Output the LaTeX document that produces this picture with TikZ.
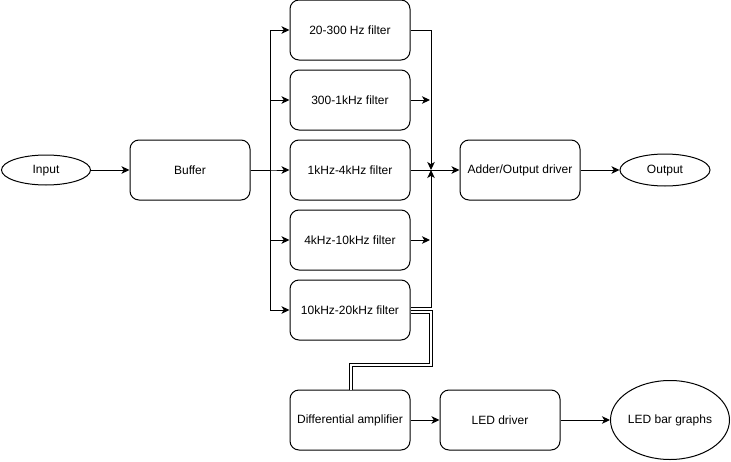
\documentclass[tikz,border=0pt]{standalone}
\usepackage{fontspec}
\setmainfont{Liberation Sans}
\usetikzlibrary{arrows.meta,shapes.geometric}
\begin{document}
\begin{tikzpicture}[x=1pt,y=-1pt,
  box/.style={draw,rounded corners=9pt,minimum width=120pt,minimum height=60pt,inner sep=0pt,line width=1pt,font=\fontsize{12}{14}\selectfont},
  oval/.style={draw,ellipse,inner sep=0pt,line width=1pt,font=\fontsize{12}{14}\selectfont,text height=8.6pt,text depth=2.6pt},
  conn/.style={line width=1pt,-{Stealth[length=8pt,width=7.5pt,inset=2.2pt]}},
  plain/.style={line width=1pt},
  link/.style={double,double distance=2.6pt,line width=0.9pt}
]
\useasboundingbox (0,0) rectangle (731,461);

\node[oval,minimum width=89pt,minimum height=30pt] (in) at (46,170) {Input};
\node[box] (buf) at (190,170) {Buffer};
\node[box] (f1) at (350,30) {20-300 Hz filter};
\node[box] (f2) at (350,100) {300-1kHz filter};
\node[box] (f3) at (350,170) {1kHz-4kHz filter};
\node[box] (f4) at (350,240) {4kHz-10kHz filter};
\node[box] (f5) at (350,310) {10kHz-20kHz filter};
\node[box] (add) at (520,170) {Adder/Output driver};
\node[oval,minimum width=90pt,minimum height=32pt] (out) at (665,170) {Output};
\node[box] (diff) at (350,420) {Differential amplifier};
\node[box] (led) at (500,420) {LED driver};
\node[oval,minimum width=119pt,minimum height=79pt] (bar) at (670,420) {LED bar graphs};

\coordinate (bx) at (270,170);
\coordinate (sum) at (431,170);
\coordinate (s2) at (430,100);
\coordinate (s4) at (430,240);

\draw[conn] (in) -- (buf);
\foreach \f in {f1,f2,f3,f4,f5}{
  \draw[conn] (buf.east) -- (bx) |- (\f.west);
}
\draw[conn] (f1.east |- 0,30) -| (sum);
\draw[conn] (f2) -- (s2);
\draw[conn] (f3) -- (add);
\draw[conn] (f4) -- (s4);
\draw[link] (f5.east |- 0,312) -- (431,312) -- (431,365) -- (351,365) -- (diff.north -| 351,0);
\draw[conn] (f5.east |- 0,307) -| (sum);
\draw[conn] (add) -- (out);
\draw[conn] (diff) -- (led);
\draw[conn] (led) -- (bar);
\end{tikzpicture}
\end{document}
